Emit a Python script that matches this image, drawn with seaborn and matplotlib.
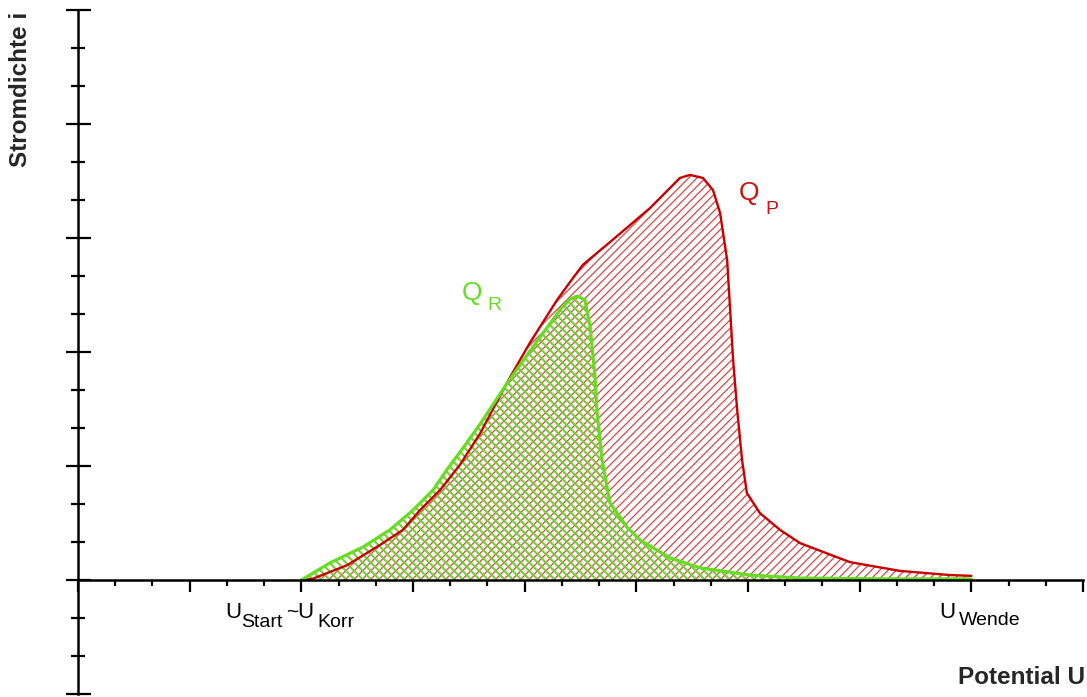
import matplotlib
matplotlib.use("Agg")
import matplotlib.pyplot as plt
import seaborn as sns
import numpy as np
import pandas as pd

# ---------------- data ----------------
# Q_P curve (red)
qp_x = [6.0, 6.3, 7.23, 8.11, 8.73, 9.19, 9.73, 10.26, 10.80, 11.15, 11.61, 12.14,
        12.87, 13.30, 13.57, 14.29, 15.37, 16.17, 16.44, 16.79, 17.06, 17.25, 17.44, 17.52,
        17.60, 17.71, 17.84, 17.97, 18.32, 18.86, 19.40, 20.74, 22.08, 23.43, 24.0]
qp_y = [0.0, 0.03, 0.39, 0.92, 1.32, 1.84, 2.37, 3.03, 3.85, 4.50, 5.34, 6.24,
        7.37, 7.95, 8.30, 8.89, 9.79, 10.58, 10.66, 10.58, 10.26, 9.66, 8.42, 7.11,
        5.79, 4.47, 3.16, 2.29, 1.76, 1.32, 0.97, 0.47, 0.24, 0.13, 0.11]
# Q_R curve (green)
qr_x = [6.0, 6.77, 7.66, 8.38, 9.00, 9.54, 9.91, 10.40, 10.80, 11.53, 12.22, 12.95,
        13.20, 13.41, 13.62, 13.76, 13.89, 13.94, 14.08, 14.29, 14.75, 15.10, 15.91,
        16.71, 18.05, 19.40, 22.08, 24.0]
qr_y = [0.0, 0.45, 0.87, 1.32, 1.84, 2.37, 2.90, 3.55, 4.10, 5.18, 6.13, 7.11,
        7.38, 7.47, 7.37, 6.66, 5.34, 4.47, 3.16, 2.03, 1.39, 1.05, 0.58,
        0.32, 0.13, 0.05, 0.03, 0.03]

x_major = list(range(0, 28, 3))
x_minor = list(range(0, 28, 1))
y_major = list(range(-3, 16, 3))
y_minor = list(range(-3, 16, 1))

RED = "#c80000"
RED_HATCH = "#d44848"
GREEN = "#66dd22"
GREEN_HATCH = "#72d030"

sns.set_theme(style="white")
plt.rcParams["font.family"] = ["Liberation Sans", "DejaVu Sans"]

fig = plt.figure(figsize=(10.87, 6.97), dpi=100)
ax = fig.add_axes([78 / 1087, 3 / 697, (1083 - 78) / 1087, (694 - 10) / 697])
ax.set_xlim(0, 27)
ax.set_ylim(-3, 15)

df_p = pd.DataFrame({"U": qp_x, "i": qp_y})
df_r = pd.DataFrame({"U": qr_x, "i": qr_y})

# hatched areas
with plt.rc_context({"hatch.linewidth": 0.9}):
    fp = ax.fill_between(df_p["U"], df_p["i"], 0, facecolor="none",
                         edgecolor=RED_HATCH, hatch="////", linewidth=0, zorder=1)
    if hasattr(fp, "set_hatch_linewidth"):
        fp.set_hatch_linewidth(0.9)
with plt.rc_context({"hatch.linewidth": 1.5}):
    fr = ax.fill_between(df_r["U"], df_r["i"], 0, facecolor="none",
                         edgecolor=GREEN_HATCH, hatch="\\\\\\\\", linewidth=0, zorder=2)
    if hasattr(fr, "set_hatch_linewidth"):
        fr.set_hatch_linewidth(1.5)

sns.lineplot(data=df_p, x="U", y="i", ax=ax, color=RED, linewidth=1.7,
             estimator=None, sort=False, zorder=3)
sns.lineplot(data=df_r, x="U", y="i", ax=ax, color=GREEN, linewidth=2.3,
             estimator=None, sort=False, zorder=4)

# axes styling
for s in ["top", "right"]:
    ax.spines[s].set_visible(False)
ax.spines["left"].set_position(("data", 0))
ax.spines["bottom"].set_position(("data", 0))
for s in ["left", "bottom"]:
    ax.spines[s].set_color("black")
    ax.spines[s].set_linewidth(1.8)
    ax.spines[s].set_zorder(5)

ax.set_xticks(x_major)
ax.set_xticks(x_minor, minor=True)
ax.set_yticks(y_major)
ax.set_yticks(y_minor, minor=True)
ax.set_xticklabels([])
ax.set_yticklabels([])
ax.tick_params(axis="x", which="major", direction="out", length=8.6, width=1.6,
               color="black", bottom=True)
ax.tick_params(axis="x", which="minor", direction="out", length=4.3, width=1.6,
               color="black", bottom=True)
ax.tick_params(axis="y", which="major", direction="inout", length=18, width=1.6,
               color="black", left=True)
ax.tick_params(axis="y", which="minor", direction="inout", length=9.4, width=1.6,
               color="black", left=True)
ax.set_xlabel("")
ax.set_ylabel("")
ax.grid(False)

# text labels
def lab(x, y, s, size, color="black"):
    ax.text(x, y, s, fontsize=size, color=color, ha="left", va="baseline",
            zorder=6, clip_on=False)

lab(3.95, -1.0, "U", 16)
lab(4.38, -1.24, "Start", 14)
lab(5.60, -1.0, "~", 15)
lab(5.90, -1.0, "U", 16)
lab(6.42, -1.24, "Korr", 14)
lab(23.13, -1.0, "U", 16)
lab(23.67, -1.18, "Wende", 14)

lab(10.31, 7.37, "Q", 19, GREEN)
lab(11.01, 7.11, "R", 14, GREEN)
lab(17.76, 10.0, "Q", 19, "#cc1111")
lab(18.48, 9.63, "P", 14, "#cc1111")

fig.text(21 / 1087, 1 - 12 / 697, "Stromdichte i", rotation=90, fontsize=17.5,
         fontweight="bold", ha="center", va="top")
fig.text(1085 / 1087, (697 - 684) / 697, "Potential U", fontsize=17.5,
         fontweight="bold", ha="right", va="baseline")

fig.savefig("out.png", dpi=100, facecolor="white")
